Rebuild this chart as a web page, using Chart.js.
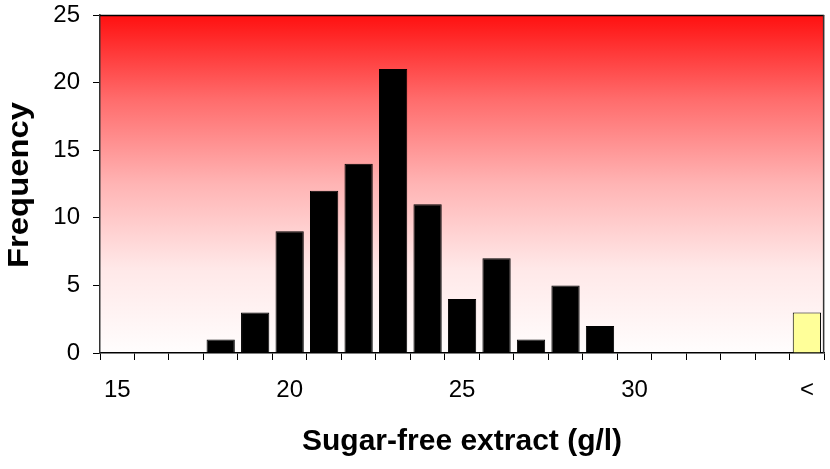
<!DOCTYPE html>
<html>
<head>
<meta charset="utf-8">
<script src="https://cdn.jsdelivr.net/npm/chart.js@4/dist/chart.umd.min.js"></script>
<style>
    body { margin: 0; background: #fff; }
    #wrap { width: 830px; height: 469px; }
</style>
</head>
<body>
<div id="wrap"><canvas id="chart"></canvas></div>
<script>
// classes of sugar-free extract, g/l (last class is the overflow bin)
const classes = ['15', '16', '17', '18', '19', '20', '21', '22', '23', '24',
    '25', '26', '27', '28', '29', '30', '31', '32', '33', '34', '<'];
const counts = [0, 0, 0, 1, 3, 9, 12, 14, 21, 11,
    4, 7, 1, 5, 2, 0, 0, 0, 0, 0, 3];
const shownLabels = ['15', '20', '25', '30', '<'];
const yTicks = [0, 5, 10, 15, 20, 25];

const FONT = "'Liberation Sans', Arial, sans-serif";

let barColors = [];
for (let i = 0; i < classes.length; i++)
    barColors.push(classes[i] === '<' ? '#ffff99' : '#000000');

// red-to-white plot background plus top/right frame
const plotBackground = {
    id: 'plotBackground',
    beforeDraw(chart) {
        const {ctx, chartArea: a} = chart;
        let g = ctx.createLinearGradient(0, a.top, 0, a.bottom);
        g.addColorStop(0, 'rgb(255,16,16)');
        g.addColorStop(0.25, 'rgb(255,108,108)');
        g.addColorStop(0.5, 'rgb(255,180,180)');
        g.addColorStop(0.75, 'rgb(255,232,232)');
        g.addColorStop(1, 'rgb(255,253,253)');
        ctx.save();
        ctx.fillStyle = g;
        ctx.fillRect(a.left, a.top, a.right - a.left, a.bottom - a.top);
        ctx.restore();
    },
    afterDraw(chart) {
        const {ctx, chartArea: a} = chart;
        ctx.save();
        ctx.lineWidth = 1.5;
        ctx.strokeStyle = '#000';
        ctx.beginPath();
        ctx.moveTo(a.left, a.top + 0.5);
        ctx.lineTo(a.right, a.top + 0.5);
        ctx.stroke();
        ctx.strokeStyle = '#333';
        ctx.beginPath();
        ctx.moveTo(a.right - 0.5, a.top);
        ctx.lineTo(a.right - 0.5, a.bottom);
        ctx.stroke();
        ctx.restore();
    }
};

// vertical axis title, drawn a bit stretched along its length
const yTitle = {
    id: 'yTitle',
    afterDraw(chart) {
        const {ctx, chartArea: a} = chart;
        const text = 'Frequency';
        ctx.save();
        ctx.font = "bold 29px " + FONT;
        ctx.fillStyle = '#000';
        ctx.textAlign = 'center';
        ctx.textBaseline = 'alphabetic';
        const w = ctx.measureText(text).width;
        ctx.translate(28, (a.top + a.bottom) / 2 + 1);
        ctx.rotate(-Math.PI / 2);
        ctx.scale(166 / w, 1);
        ctx.fillText(text, 0, 0);
        ctx.restore();
    }
};

new Chart(document.getElementById('chart'), {
    type: 'bar',
    data: {
        labels: classes,
        datasets: [{
            data: counts,
            backgroundColor: barColors,
            borderColor: '#000',
            borderWidth: 1,
            barPercentage: 0.82,
            categoryPercentage: 1
        }]
    },
    options: {
        responsive: true,
        maintainAspectRatio: false,
        animation: false,
        layout: { padding: { top: 15, right: 4, left: 0, bottom: 0 } },
        plugins: {
            legend: { display: false },
            tooltip: { enabled: false }
        },
        scales: {
            x: {
                grid: {
                    offset: true,
                    drawOnChartArea: false,
                    tickLength: 7,
                    color: '#000'
                },
                border: { color: '#000', width: 1.5 },
                ticks: {
                    autoSkip: false,
                    maxRotation: 0,
                    padding: 16,
                    color: '#000',
                    font: { family: FONT, size: 24 },
                    callback: function (v, i) {
                        const l = classes[i];
                        return shownLabels.includes(l) ? l : '';
                    }
                },
                title: {
                    display: true,
                    text: 'Sugar-free extract (g/l)',
                    color: '#000',
                    font: { family: FONT, size: 30, weight: 'bold' },
                    padding: { top: 0, bottom: 9 }
                },
                afterFit: function (scale) { scale.height = 116; }
            },
            y: {
                min: 0,
                max: 25,
                afterBuildTicks: function (scale) {
                    scale.ticks = yTicks.map(v => ({ value: v }));
                },
                grid: {
                    drawOnChartArea: false,
                    tickLength: 7,
                    color: '#000'
                },
                border: { color: '#333', width: 1.5 },
                ticks: {
                    padding: 13,
                    color: '#000',
                    // small line height keeps the top label from pushing the plot down
                    font: { family: FONT, size: 24, lineHeight: 0.1 }
                },
                afterFit: function (scale) { scale.width = 100; }
            }
        }
    },
    plugins: [plotBackground, yTitle]
});
</script>
</body>
</html>
